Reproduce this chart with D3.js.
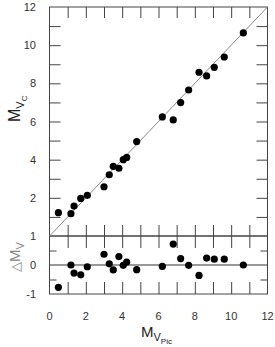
<!DOCTYPE html>
<html><head><meta charset="utf-8">
<script src="https://cdn.jsdelivr.net/npm/d3@7"></script>
<style>
html,body{margin:0;padding:0;background:#fff;}
svg{display:block;font-family:"Liberation Sans",Arial,sans-serif;}
</style></head>
<body>
<svg id="c" width="275" height="347"></svg>
<script>
// Data
const mvPic = [0.49,1.18,1.35,1.72,2.08,3.00,3.29,3.51,3.82,4.06,4.25,4.80,6.21,6.81,7.22,7.66,8.23,8.65,9.07,9.62,10.67];
const mvC   = [1.22,1.17,1.57,1.97,2.13,2.58,3.21,3.65,3.55,4.00,4.12,4.95,6.24,6.08,6.99,7.65,8.58,8.39,8.84,9.38,10.64];
const dMv   = [-0.77,0.00,-0.28,-0.34,-0.06,0.37,0.04,-0.17,0.29,-0.01,0.10,-0.16,-0.05,0.72,0.22,-0.01,-0.36,0.24,0.20,0.20,0.00];
const xTickLabels = [0,2,4,6,8,10,12];
const yTopTickLabels = [2,4,6,8,10,12];
const yBotTickLabels = [-1,0,1];

const svg = d3.select("#c");
const L = 49.5, R = 267.5, T = 7, M = 236, B = 294;
const x = d3.scaleLinear().domain([0,12]).range([L,R]);
const yT = d3.scaleLinear().domain([0,12]).range([M,T]);
const yB = d3.scaleLinear().domain([-1,1]).range([B,M]);
const axisCol = "#444", txtCol = "#333";

const g = svg.append("g");
const unitTicks = d3.range(1,12);

function styleAxis(sel){
  sel.select(".domain").remove();
  sel.selectAll("line").attr("stroke",axisCol).attr("stroke-width",1);
  sel.selectAll("text").remove();
}
// top panel ticks (inward)
g.append("g").attr("transform",`translate(${L},0)`).call(d3.axisLeft(yT).tickValues(unitTicks).tickSize(-11)).call(styleAxis);
g.append("g").attr("transform",`translate(${R},0)`).call(d3.axisRight(yT).tickValues(unitTicks).tickSize(-11)).call(styleAxis);
g.append("g").attr("transform",`translate(0,${T})`).call(d3.axisTop(x).tickValues(unitTicks).tickSize(-11)).call(styleAxis);
g.append("g").attr("transform",`translate(0,${M})`).call(d3.axisBottom(x).tickValues(unitTicks).tickSize(-11)).call(styleAxis);
// bottom panel ticks
g.append("g").attr("transform",`translate(0,${M})`).call(d3.axisTop(x).tickValues(unitTicks).tickSize(-12)).call(styleAxis);
g.append("g").attr("transform",`translate(0,${B})`).call(d3.axisBottom(x).tickValues(unitTicks).tickSize(-12)).call(styleAxis);
g.append("g").attr("transform",`translate(${L},0)`).call(d3.axisLeft(yB).tickValues([-0.5,0.5]).tickSize(-7)).call(styleAxis);
g.append("g").attr("transform",`translate(${R},0)`).call(d3.axisRight(yB).tickValues([-0.5,0.5]).tickSize(-7)).call(styleAxis);

// frames
g.append("rect").attr("x",L).attr("y",T).attr("width",R-L).attr("height",M-T).attr("fill","none").attr("stroke",axisCol);
g.append("rect").attr("x",L).attr("y",M).attr("width",R-L).attr("height",B-M).attr("fill","none").attr("stroke",axisCol);

// reference lines
g.append("line").attr("x1",x(0)).attr("y1",yT(0)).attr("x2",x(12)).attr("y2",yT(12)).attr("stroke","#888").attr("stroke-width",1);
g.append("line").attr("x1",x(0)).attr("y1",yB(0)).attr("x2",x(12)).attr("y2",yB(0)).attr("stroke","#333").attr("stroke-width",1);

// points
g.selectAll(".pt").data(mvPic).join("circle").attr("cx",d=>x(d)).attr("cy",(d,i)=>yT(mvC[i])).attr("r",3.6).attr("fill","#000");
g.selectAll(".rs").data(mvPic).join("circle").attr("cx",d=>x(d)).attr("cy",(d,i)=>yB(dMv[i])).attr("r",3.6).attr("fill","#000");

// tick labels
const fs = 11;
svg.append("g").selectAll("text").data(xTickLabels).join("text")
  .attr("x",d=>x(d)).attr("y",320).attr("text-anchor","middle").attr("font-size",fs).attr("fill",txtCol).text(d=>d);
svg.append("g").selectAll("text").data(yTopTickLabels).join("text")
  .attr("x",36).attr("y",d=>yT(d)+4).attr("text-anchor","end").attr("font-size",fs).attr("fill",txtCol).text(d=>d);
svg.append("g").selectAll("text").data(yBotTickLabels).join("text")
  .attr("x",36).attr("y",d=>yB(d)+4).attr("text-anchor","end").attr("font-size",fs).attr("fill",txtCol).text(d=>d);

// axis titles
const xt = svg.append("text").attr("x",141).attr("y",337).attr("font-size",15).attr("fill","#222");
xt.append("tspan").text("M");
xt.append("tspan").attr("dy",4).attr("font-size",11).text("V");
xt.append("tspan").attr("dy",3).attr("font-size",8).text("Pic");

const yt = svg.append("text").attr("transform","translate(20,122) rotate(-90)").attr("font-size",16).attr("fill","#222");
yt.append("tspan").text("M");
yt.append("tspan").attr("dy",4).attr("font-size",11).text("V");
yt.append("tspan").attr("dy",3).attr("font-size",8).text("C");

const dt = svg.append("text").attr("transform","translate(20,272) rotate(-90)").attr("font-size",15).attr("fill","#888");
dt.append("tspan").attr("font-size",13).text("\u25B3");
dt.append("tspan").text("M");
dt.append("tspan").attr("dy",4).attr("font-size",11).text("V");
</script>
</body></html>
